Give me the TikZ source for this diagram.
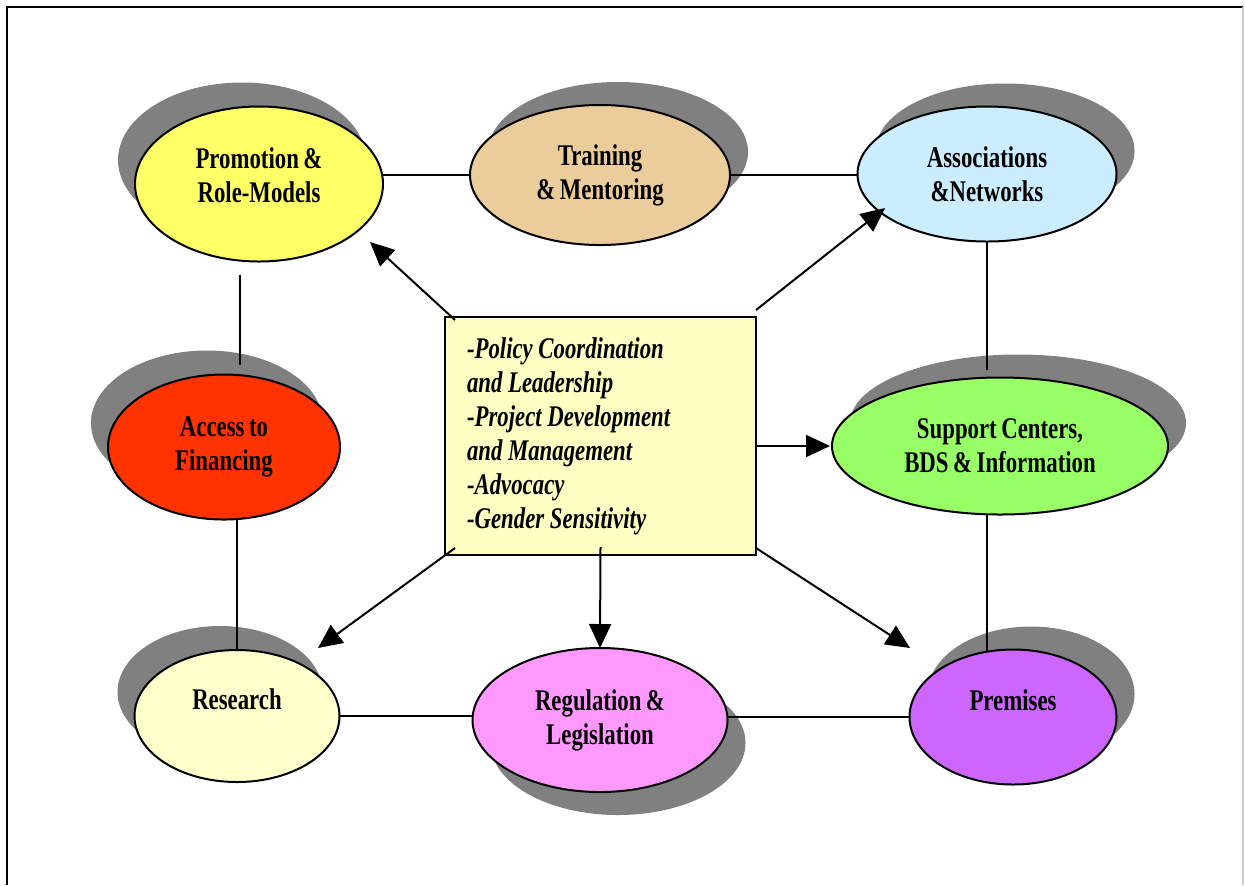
\documentclass[tikz,border=0pt]{standalone}
\usepackage{fontspec}
\setmainfont{Liberation Serif}[FakeStretch=0.76,WordSpace=0.8]
\usepackage{tikz}
\usetikzlibrary{calc,shapes.geometric,shadows,arrows.meta}

\definecolor{promoYellow}{RGB}{255,255,102}
\definecolor{trainTan}{RGB}{235,205,155}
\definecolor{assocBlue}{RGB}{204,236,255}
\definecolor{accessRed}{RGB}{255,51,0}
\definecolor{supportGreen}{RGB}{153,255,102}
\definecolor{researchCream}{RGB}{255,255,204}
\definecolor{regulPink}{RGB}{255,153,255}
\definecolor{premisPurple}{RGB}{204,102,255}
\definecolor{policyYellow}{RGB}{255,255,196}
\protected\def\tightspace{\spaceskip=2.8pt\relax}

\begin{document}
\begin{tikzpicture}[x=0.5pt,y=-0.5pt,inner sep=0pt,outer sep=0pt,
	blob/.style={ellipse,draw=black,line width=1pt,align=center,font=\fontsize{15}{17}\selectfont\bfseries},
	sh ul/.style={general shadow={fill=gray,shadow xshift=-8.5pt,shadow yshift=12pt}},
	sh ur/.style={general shadow={fill=gray,shadow xshift=9pt,shadow yshift=11.5pt}},
	sh dr/.style={general shadow={fill=gray,shadow xshift=9pt,shadow yshift=-11.5pt}},
	link/.style={line width=1pt},
	arr/.style={line width=1pt,-{Triangle[length=12pt,width=11pt]}}]
	\useasboundingbox (0,0) rectangle (1245,885);
	% frame
	\draw[line width=1.2pt] (7,885) -- (7,7) -- (1243,7);
	\draw[black!20,line width=0.6pt] (1243,7) -- (1243,885);
	% ellipses
	\node[blob,fill=promoYellow,sh ul,minimum width=124pt,minimum height=77.5pt] (promo) at (259,184) {Promotion \&\\Role-Models\\[-8pt]\mbox{}};
	\node[blob,fill=trainTan,sh ur,minimum width=130pt,minimum height=70pt] (train) at (600,175) {Training\\\& Mentoring};
	\node[blob,fill=assocBlue,sh ur,minimum width=129.5pt,minimum height=67.5pt] (assoc) at (987,174) {Associations\\\&Networks};
	\node[blob,fill=accessRed,sh ul,minimum width=116pt,minimum height=72.5pt] (access) at (224,447) {Access to\\Financing};
	\node[blob,fill=supportGreen,sh ur,minimum width=168pt,minimum height=68.5pt] (support) at (1000,446) {Support Centers,\\BDS \& Information};
	\node[blob,fill=researchCream,sh ul,minimum width=102.5pt,minimum height=66pt] (research) at (237,716) {Research\\\mbox{}};
	\node[blob,fill=regulPink,sh dr,minimum width=127.5pt,minimum height=72pt] (regul) at (600,720) {Regulation \&\\Legislation};
	\node[blob,fill=premisPurple,sh ur,minimum width=103.5pt,minimum height=67.5pt] (premis) at (1013,717) {Premises\\\mbox{}};
	% centre box
	\node[draw=black,line width=1pt,fill=policyYellow,minimum height=119pt,text width=133.5pt,inner xsep=11pt,align=left,
		font=\fontsize{15}{17}\selectfont\bfseries\itshape] (policy) at (600.5,436)
	{\tightspace -Policy Coordination\\and Leadership\\-Project Development\\and Management\\-Advocacy\\-Gender Sensitivity};
	% ring
	\draw[link] (train.west) -- (train.west -| promo.east);
	\draw[link] (train.east) -- (train.east -| assoc.west);
	\draw[link] ($(promo.south)+(-19,13)$) -- ($(access.north)+(16,-10)$);
	\draw[link] (research.north) -- (research.north |- access.south);
	\draw[link] (assoc.south) -- ($(assoc.south |- support.north)+(0,-8)$);
	\draw[link] (assoc.south |- support.south) -- ($(assoc.south |- premis.north)+(0,2)$);
	\draw[link] (research.east) -- (research.east -| regul.west);
	\draw[link] (premis.west -| regul.east) -- (premis.west);
	% arrows
	\draw[arr] ($(policy.north west)+(10,3)$) -- ($(promo.center)+(111,58)$);
	\draw[arr] ($(policy.north east)+(0,-7)$) -- ($(assoc.center)+(-102,34)$);
	\draw[arr] (policy.east |- support.west) -- ($(support.west)+(-2,0)$);
	\draw[arr] ($(policy.south west)+(10,-7)$) -- ($(research.center)+(81,-68)$);
	\draw[arr] ($(policy.south)+(0,-8)$) -- (regul.north);
	\draw[arr] ($(policy.south east)+(0,-7)$) -- ($(premis.center)+(-103,-69)$);
\end{tikzpicture}
\end{document}
